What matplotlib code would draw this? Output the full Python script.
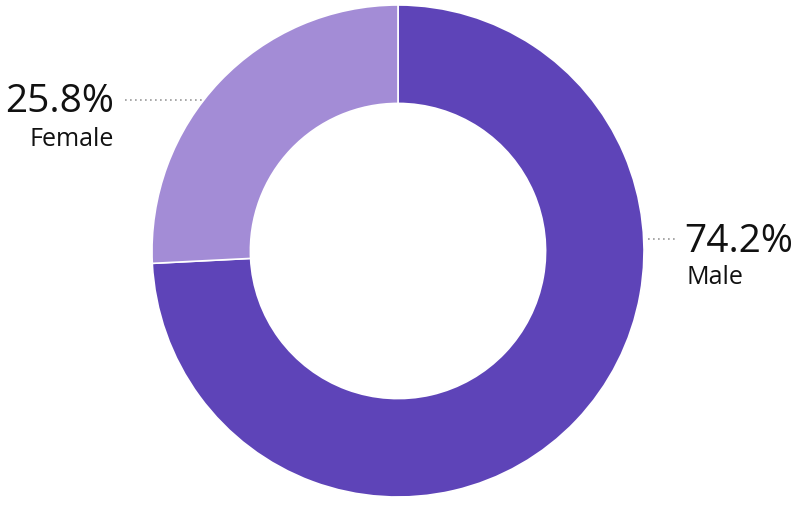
import matplotlib.pyplot as plt

labels = ["Male", "Female"]
values = [74.2, 25.8]
colors = ["#5e44b8", "#a38cd6"]

W, H = 803, 506
fig = plt.figure(figsize=(W / 100, H / 100), dpi=100)
ax = fig.add_axes([0, 0, 1, 1])

cx, cy, r = 398, H - 252, 246
ax.pie(values, colors=colors, startangle=90, counterclock=False,
       center=(cx, cy), radius=r, frame=True,
       wedgeprops=dict(width=r * 0.4, edgecolor="white", linewidth=1.2))
ax.set_xlim(0, W)
ax.set_ylim(0, H)
ax.set_aspect("equal")
ax.axis("off")

font = ["Open Sans", "DejaVu Sans"]
# Female label (left)
ax.plot([125, 205], [H - 101, H - 101], ls=(0, (1, 2)), color="#999999", lw=1.2)
ax.text(114, H - 112, f"{values[1]}%", ha="right", va="baseline",
        fontsize=28, family=font, color="#111111")
ax.text(114, H - 146, labels[1], ha="right", va="baseline",
        fontsize=18, family=font, color="#111111")
# Male label (right)
ax.plot([648, 676], [H - 240, H - 240], ls=(0, (1, 2)), color="#999999", lw=1.2)
ax.text(684, H - 252, f"{values[0]}%", ha="left", va="baseline",
        fontsize=28, family=font, color="#111111")
ax.text(687, H - 284, labels[0], ha="left", va="baseline",
        fontsize=18, family=font, color="#111111")

fig.savefig("out.png", dpi=100)
